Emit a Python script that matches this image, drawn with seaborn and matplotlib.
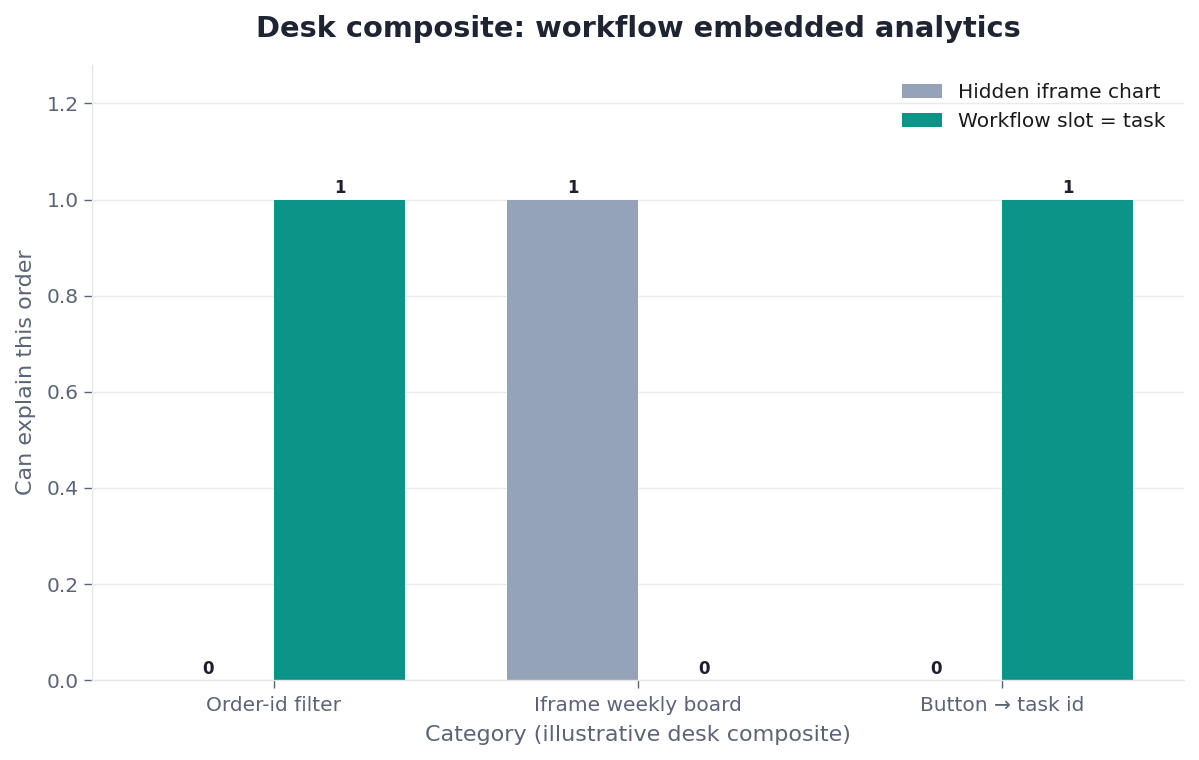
import matplotlib
matplotlib.use("Agg")
import matplotlib.pyplot as plt
import seaborn as sns
import pandas as pd

categories = ["Order-id filter", "Iframe weekly board", "Button \u2192 task id"]
series_names = ["Hidden iframe chart", "Workflow slot = task"]
hidden_vals = [0, 1, 0]
workflow_vals = [1, 0, 1]
colors = ["#94a3b8", "#0d9488"]

rows = []
for c, h, w in zip(categories, hidden_vals, workflow_vals):
    rows.append({"Category": c, "Series": series_names[0], "Value": h})
    rows.append({"Category": c, "Series": series_names[1], "Value": w})
df = pd.DataFrame(rows)

sns.set_theme(style="white")
plt.rcParams["font.family"] = ["DejaVu Sans"]

fig = plt.figure(figsize=(11.99, 7.6), dpi=100)
ax = fig.add_axes([0.0767, 0.105, 0.9108, 0.8095])

sns.barplot(data=df, x="Category", y="Value", hue="Series", order=categories,
            hue_order=series_names, palette=colors, width=0.72, ax=ax,
            errorbar=None, saturation=1, linewidth=0, edgecolor="none")

for cont in ax.containers:
    ax.bar_label(cont, labels=[f"{int(v)}" for v in cont.datavalues],
                 fontsize=12, fontweight="bold", color="#1e1e2e", padding=1.5)

ax.set_ylim(0, 1.28)
ax.set_xlim(-0.5, 2.5)
ax.set_yticks([0, 0.2, 0.4, 0.6, 0.8, 1.0, 1.2])
ax.yaxis.grid(True, color="#e8eaee", linewidth=1)
ax.set_axisbelow(True)
for s in ["top", "right"]:
    ax.spines[s].set_visible(False)
for s in ["left", "bottom"]:
    ax.spines[s].set_color("#e3e6ea")
    ax.spines[s].set_linewidth(1)

ax.tick_params(axis="both", colors="#5b6477", labelsize=14.5, length=6, width=1,
               left=True, bottom=True)
ax.tick_params(axis="x", pad=5.5)
ax.set_xlabel("Category (illustrative desk composite)", fontsize=16, color="#5b6477", labelpad=7)
ax.set_ylabel("Can explain this order", fontsize=16, color="#5b6477", labelpad=8)
ax.set_title("Desk composite: workflow embedded analytics", fontsize=20.8,
             fontweight="bold", color="#1f2433", pad=20)

leg = ax.legend(loc="upper right", frameon=False, fontsize=14.5, handlelength=2.0,
                handleheight=0.7)
for t in leg.get_texts():
    t.set_color("#1a1a1a")

fig.savefig("out.png", dpi=100)
